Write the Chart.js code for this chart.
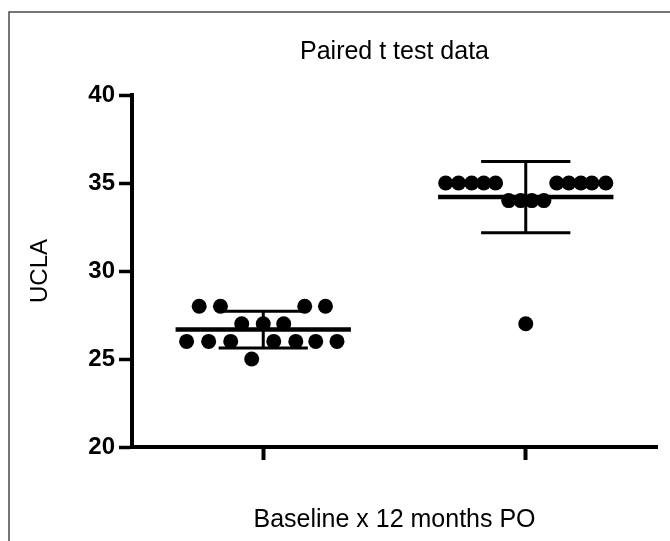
<!DOCTYPE html>
<html>
<head>
<meta charset="utf-8">
<script src="https://cdn.jsdelivr.net/npm/chart.js@4/dist/chart.umd.min.js"></script>
<style>
  html, body { margin: 0; padding: 0; background: #fff; }
  #wrap { position: relative; width: 670px; height: 541px; }
</style>
</head>
<body>
<div id="wrap"><canvas id="c" width="670" height="541"></canvas></div>
<script>
// ---- data ----
const categories = ['Baseline', '12 months PO'];
const categoryPositions = [1, 2];
const baselineValues  = [28, 28, 28, 28, 27, 27, 27, 26, 26, 26, 26, 26, 26, 26, 25];
const baselineOffsets = [-0.244, -0.163, 0.158, 0.237, -0.082, 0, 0.078,
                         -0.292, -0.208, -0.124, 0.040, 0.124, 0.200, 0.281, -0.044];
const poValues  = [35, 35, 35, 35, 35, 35, 35, 35, 35, 35, 34, 34, 34, 34, 27];
const poOffsets = [-0.305, -0.256, -0.206, -0.160, -0.115, 0.118, 0.164, 0.210, 0.252, 0.305,
                   -0.065, -0.019, 0.023, 0.069, 0];
const means = [26.67, 34.2];
const sds   = [1.04, 2.02];
const yTicks = [20, 25, 30, 35, 40];

// ---- build datasets ----
const FONT = "'Liberation Sans', Arial, Helvetica, sans-serif";
const MEAN_HALF = 0.334, CAP_HALF = 0.17;

function dots(values, offsets, pos) {
  return values.map((v, i) => ({ x: pos + offsets[i], y: v }));
}
const groups = [
  { values: baselineValues, offsets: baselineOffsets },
  { values: poValues, offsets: poOffsets }
];
const datasets = [];
groups.forEach((g, gi) => {
  const pos = categoryPositions[gi];
  datasets.push({
    label: categories[gi],
    data: dots(g.values, g.offsets, pos),
    showLine: false,
    pointRadius: 7.5,
    pointHoverRadius: 7.5,
    pointBackgroundColor: '#000',
    pointBorderColor: '#000',
    pointBorderWidth: 0,
    order: 1
  });
  const m = means[gi], s = sds[gi];
  datasets.push({
    label: categories[gi] + ' mean',
    data: [{ x: pos - MEAN_HALF, y: m }, { x: pos + MEAN_HALF, y: m }],
    showLine: true, pointRadius: 0, borderColor: '#000', borderWidth: 4.5,
    order: 0
  });
  datasets.push({
    label: categories[gi] + ' SD',
    data: [
      { x: pos - CAP_HALF, y: m + s }, { x: pos + CAP_HALF, y: m + s }, { x: pos, y: null },
      { x: pos, y: m + s }, { x: pos, y: m - s }, { x: pos, y: null },
      { x: pos - CAP_HALF, y: m - s }, { x: pos + CAP_HALF, y: m - s }
    ],
    showLine: true, spanGaps: false, pointRadius: 0, borderColor: '#000', borderWidth: 3,
    borderCapStyle: 'butt',
    order: 0
  });
});

const framePlugin = {
  id: 'frame',
  beforeDraw(chart) {
    const ctx = chart.ctx;
    ctx.save();
    ctx.strokeStyle = '#4a4a4a';
    ctx.lineWidth = 1.5;
    ctx.beginPath();
    ctx.moveTo(9, chart.height);
    ctx.lineTo(9, 12);
    ctx.lineTo(chart.width, 12);
    ctx.stroke();
    ctx.restore();
  }
};

new Chart(document.getElementById('c'), {
  type: 'scatter',
  data: { datasets },
  plugins: [framePlugin],
  options: {
    responsive: false,
    animation: false,
    events: [],
    layout: { padding: { left: 0, right: 13, top: 0, bottom: 0 } },
    plugins: {
      legend: { display: false },
      tooltip: { enabled: false },
      title: {
        display: true,
        text: 'Paired t test data',
        color: '#000',
        fullSize: false,
        font: { family: FONT, size: 25, weight: 'normal', lineHeight: 1.2 },
        padding: { top: 37, bottom: 28 }
      }
    },
    scales: {
      x: {
        type: 'linear',
        min: 0.5, max: 2.5,
        afterBuildTicks(scale) { scale.ticks = categoryPositions.map(v => ({ value: v })); },
        afterFit(scale) { scale.height = 94; },
        ticks: { display: false },
        grid: { drawOnChartArea: false, drawTicks: true, tickLength: 13, tickWidth: 4, tickColor: '#000' },
        border: { display: true, color: '#000', width: 4 },
        title: {
          display: true,
          text: 'Baseline x 12 months PO',
          color: '#000',
          font: { family: FONT, size: 25, weight: 'normal', lineHeight: 1.2 },
          padding: { top: 0, bottom: 6 }
        }
      },
      y: {
        type: 'linear',
        min: 20, max: 40,
        afterBuildTicks(scale) { scale.ticks = yTicks.map(v => ({ value: v })); },
        afterFit(scale) { scale.width = 132; },
        ticks: {
          color: '#000',
          padding: 4,
          font: { family: FONT, size: 24, weight: 'bold' }
        },
        grid: { drawOnChartArea: false, drawTicks: true, tickLength: 13, tickWidth: 3.5, tickColor: '#000' },
        border: { display: true, color: '#000', width: 4 },
        title: {
          display: true,
          text: 'UCLA',
          color: '#000',
          font: { family: FONT, size: 24, weight: 'normal', lineHeight: 1.2 },
          padding: { top: 26, bottom: 0 }
        }
      }
    }
  }
});
</script>
</body>
</html>
